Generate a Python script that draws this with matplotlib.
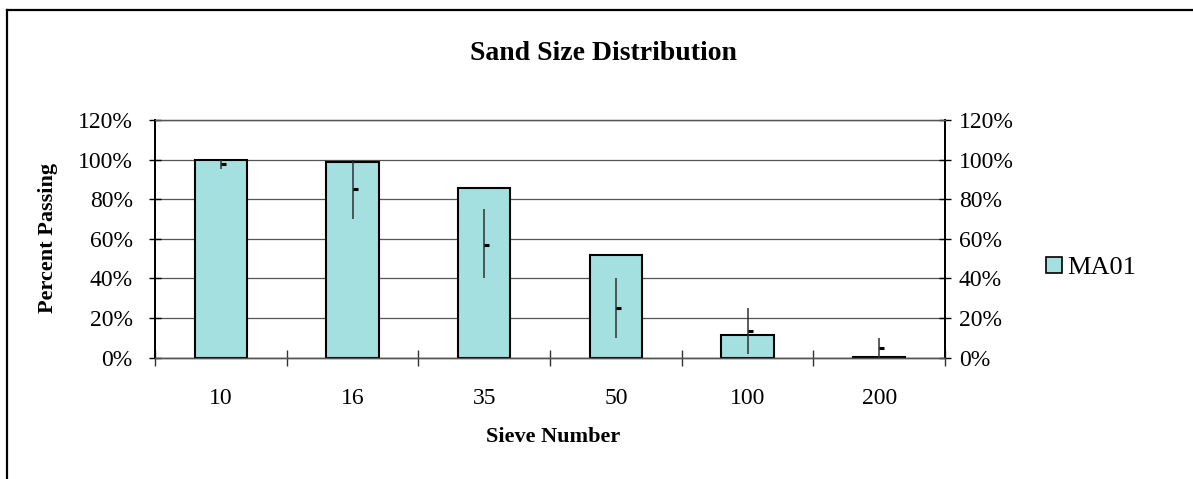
import matplotlib
matplotlib.use("Agg")
import matplotlib.pyplot as plt
from matplotlib.lines import Line2D
from matplotlib.patches import Patch
from matplotlib.ticker import FuncFormatter, FixedLocator

# ---- data ----
sieves = ['10', '16', '35', '50', '100', '200']
passing = [1.00, 0.99, 0.855, 0.52, 0.112, 0.005]
high = [1.00, 1.00, 0.75, 0.40, 0.25, 0.10]
low = [0.95, 0.70, 0.40, 0.10, 0.02, 0.00]
close = [0.98, 0.85, 0.57, 0.25, 0.135, 0.05]
series_name = 'MA01'
title = 'Sand Size Distribution'
xlabel = 'Sieve Number'
ylabel = 'Percent Passing'
yticks = [0, 0.2, 0.4, 0.6, 0.8, 1.0, 1.2]

W, H = 1193, 479
DPI = 100
plt.rcParams['font.family'] = ['Liberation Serif', 'DejaVu Serif']

fig = plt.figure(figsize=(W / DPI, H / DPI), dpi=DPI)
fig.patch.set_facecolor('white')

def fx(px):
    return px / W

def fy(py):
    return 1 - py / H

left, right, top, bottom = 155, 945, 120, 357.5
ax = fig.add_axes([fx(left), fy(bottom), fx(right) - fx(left), fy(top) - fy(bottom)])

x = list(range(len(sieves)))
bar_color = '#A5E0E0'
ax.bar(x, passing, width=0.395, color=bar_color, edgecolor='black', linewidth=1.5, zorder=3)

# high-low lines with close ticks
ax.vlines(x, low, high, colors='#303030', linewidth=1.1, zorder=4)
ax.plot(x, close, linestyle='none', marker=1, markersize=3.6, markeredgewidth=2.2,
        color='black', zorder=5)

ax.set_xlim(-0.5, len(sieves) - 0.5)
ax.set_ylim(0, 1.2)

pct = FuncFormatter(lambda v, p: f"{v*100:.0f}%")
ax.yaxis.set_major_locator(FixedLocator(yticks))
ax.yaxis.set_major_formatter(pct)
ax.grid(axis='y', color='#555555', linewidth=0.9, zorder=0)
ax.set_axisbelow(True)

ax.set_xticks(x)
ax.set_xticklabels(sieves)
ax.set_xticks([i - 0.5 for i in range(len(sieves) + 1)], minor=True)
ax.tick_params(axis='x', which='major', length=0, pad=22, labelsize=17)
ax.tick_params(axis='x', which='minor', length=11, direction='inout', width=1.0, color='#333333')

ax.tick_params(axis='y', which='major', direction='inout', length=8, width=1.0,
               labelsize=17, pad=12, left=True, right=False, labelleft=True, labelright=False)

ax2 = ax.twinx()
ax2.set_ylim(0, 1.2)
ax2.yaxis.set_major_locator(FixedLocator(yticks))
ax2.yaxis.set_major_formatter(pct)
ax2.tick_params(axis='y', which='major', direction='inout', length=8, width=1.0,
                labelsize=17, pad=6)
for a in (ax, ax2):
    for s in ['left', 'right']:
        a.spines[s].set_color('black')
        a.spines[s].set_linewidth(1.3)
    a.spines['bottom'].set_color('#555555')
    a.spines['bottom'].set_linewidth(1.0)
    a.spines['top'].set_color('#555555')
    a.spines['top'].set_linewidth(0.9)

# texts
fig.text(fx(603), fy(53), title, ha='center', va='center', fontsize=20, fontweight='bold')
fig.text(fx(553), fy(437), xlabel, ha='center', va='center', fontsize=16, fontweight='bold')
fig.text(fx(48), fy(238), ylabel, ha='center', va='center', fontsize=16, fontweight='bold',
         rotation=90)

# legend
handle = Patch(facecolor=bar_color, edgecolor='black', linewidth=1.2)
fig.legend([handle], [series_name], loc='center left', bbox_to_anchor=(fx(1046), fy(268)),
           frameon=False, fontsize=19, handlelength=0.6, handleheight=0.6,
           handletextpad=0.2, borderaxespad=0, borderpad=0)

# chart border (top and left only visible)
fig.add_artist(Line2D([fx(7), 1], [fy(9.5), fy(9.5)], color='black', linewidth=1.6))
fig.add_artist(Line2D([fx(7), fx(7)], [0, fy(9.5)], color='black', linewidth=1.6))

fig.savefig('out.png', dpi=DPI)
